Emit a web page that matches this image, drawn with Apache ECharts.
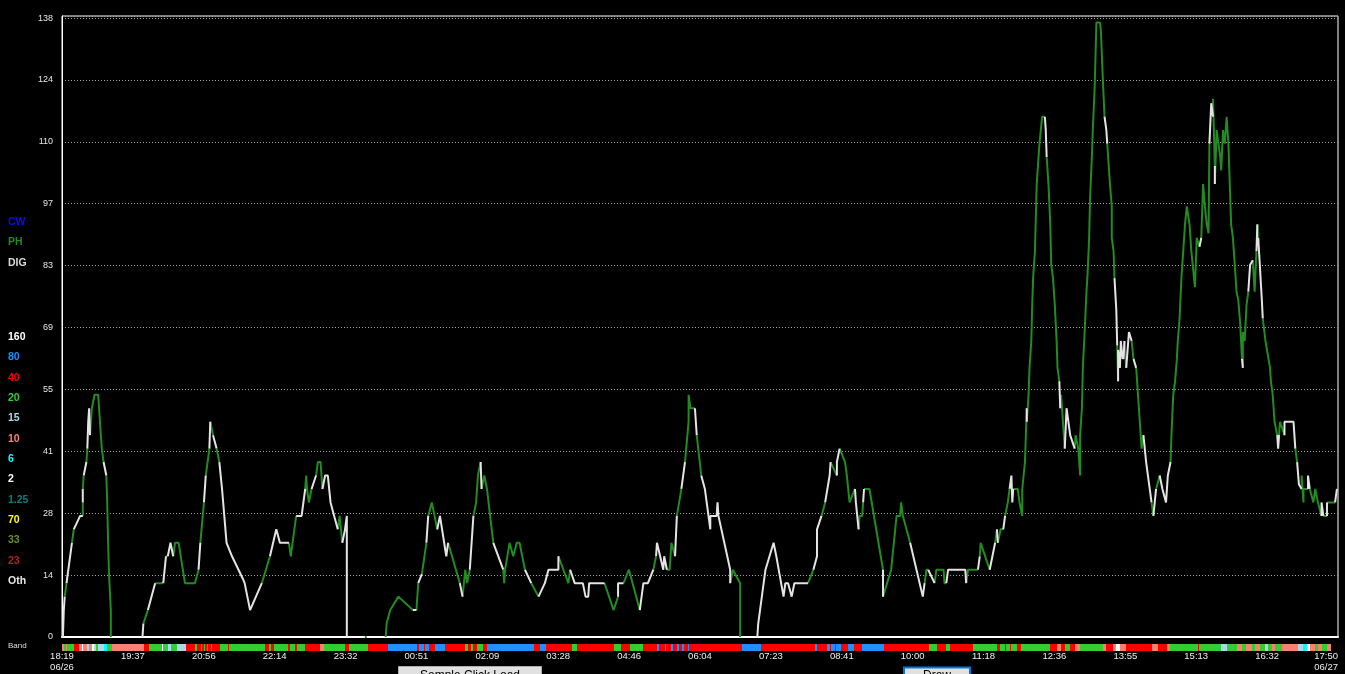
<!DOCTYPE html>
<html><head><meta charset="utf-8">
<script src="https://cdn.jsdelivr.net/npm/echarts@6/dist/echarts.min.js"></script>
<style>html,body{margin:0;padding:0;background:#000;overflow:hidden}#c{width:1345px;height:674px}</style>
</head><body><div id="c"></div>
<script>
// ---- tick labels ----
const xTickLabels = ['18:19\n06/26','19:37','20:56','22:14','23:32','00:51','02:09','03:28','04:46','06:04','07:23','08:41','10:00','11:18','12:36','13:55','15:13','16:32','17:50\n06/27'];
const yTickLabels = ['0','14','28','41','55','69','83','97','110','124','138'];

// ---- left legend ----
const modeNames = ['CW','PH','DIG'];
const modeColors = ['#0a0aff','#228b22','#dcdcdc'];
const bandNames = ['160','80','40','20','15','10','6','2','1.25','70','33','23','Oth'];
const bandColors = ['#ffffff','#1e90ff','#ff0000','#32cd32','#add8e6','#fa8072','#00ffff','#ffffff','#008080','#ffff00','#6b8e23','#b22222','#e8e8e8'];

// ---- activity line: [minutes after 18:19, value, mode of segment ending here] ----
const runA = [[1,0,'-'],[2,6,'W'],[3,9,'W'],[5,12,'G'],[11,21,'W'],[13,24,'G'],[20,27,'W'],[23,27,'W'],[23,30,'G'],[23,33,'W'],[24,36,'G'],[27,39,'W'],[28,42,'G'],[29,48,'W'],[30,51,'W'],[31,45,'W'],[33,51,'G'],[36,54,'G'],[40,54,'G'],[41,51,'G'],[43,45,'G'],[44,42,'G'],[46,39,'G'],[49,36,'W'],[50,30,'G'],[51,21,'G'],[52,14,'G'],[54,6,'G'],[54,0,'G']];
const runB = [[89,0,'-'],[90,3,'W'],[95,6,'G'],[103,12,'W'],[112,12,'G'],[115,18,'W'],[117,18,'G'],[120,21,'W'],[123,18,'W'],[125,21,'G'],[129,21,'G'],[136,12,'G'],[147,12,'G'],[151,15,'G'],[153,21,'W'],[157,30,'G'],[159,36,'W'],[163,42,'G'],[164,48,'W'],[167,45,'G'],[171,42,'W'],[174,39,'G'],[177,33,'W'],[182,21,'W'],[184,21,'W'],[188,18,'W'],[200,13,'W'],[202,12,'W'],[208,6,'W'],[209,6,'W'],[221,12,'W'],[230,18,'G'],[237,24,'W'],[241,21,'W'],[251,21,'W'],[253,18,'G'],[259,27,'G'],[265,27,'W'],[269,33,'W'],[270,36,'G'],[271,33,'G'],[273,30,'G'],[276,33,'G'],[281,36,'W'],[283,39,'G'],[286,39,'G'],[288,33,'G'],[291,36,'W'],[294,36,'W'],[297,30,'W'],[301,27,'W'],[305,24,'W'],[307,27,'G'],[310,21,'G'],[313,24,'W'],[315,27,'W'],[315,0,'W']];
const runB2 = [[335,0,'-'],[337,0,'G']];
const runC = [[358,0,'-'],[359,3,'G'],[363,6,'G'],[372,9,'G'],[388,6,'G'],[392,6,'W'],[394,12,'G'],[398,14,'W'],[403,21,'G'],[405,27,'W'],[409,30,'G'],[412,27,'G'],[415,24,'G'],[418,27,'W'],[425,18,'W'],[427,21,'W'],[440,12,'G'],[443,9,'W'],[446,15,'G'],[448,12,'G'],[451,15,'G'],[455,27,'W'],[458,30,'G'],[460,36,'G'],[463,39,'G'],[464,33,'W'],[467,36,'G'],[470,33,'G'],[477,21,'G'],[488,15,'W'],[489,12,'G'],[490,15,'G'],[495,21,'G'],[499,18,'G'],[503,21,'G'],[506,21,'G'],[512,15,'G'],[519,12,'W'],[527,9,'G'],[534,12,'W'],[538,15,'W'],[549,15,'W'],[549,18,'W'],[560,12,'G'],[562,15,'G'],[567,12,'W'],[576,12,'W'],[579,9,'W'],[582,9,'W'],[583,12,'W'],[600,12,'W'],[610,6,'G'],[615,9,'G'],[615,12,'W'],[621,12,'W'],[627,15,'G'],[639,6,'G'],[641,9,'W'],[643,12,'W'],[648,12,'W'],[654,15,'W'],[657,18,'G'],[658,21,'W'],[659,21,'W'],[665,15,'W'],[666,18,'W'],[669,15,'W'],[672,15,'G'],[674,21,'G'],[678,18,'G'],[680,27,'W'],[685,33,'G'],[689,39,'W'],[693,48,'G'],[693,54,'G'],[694,54,'G'],[695,51,'G'],[700,51,'G'],[702,45,'W'],[707,36,'G'],[711,33,'W'],[713,30,'W'],[717,24,'W'],[717,27,'W'],[724,27,'W'],[725,30,'W'],[726,27,'W'],[739,15,'W'],[739,12,'W'],[742,15,'G'],[750,12,'G'],[750,0,'G']];
const runD = [[769,0,'-'],[770,3,'W'],[774,9,'W'],[778,15,'W'],[787,21,'W'],[790,18,'W'],[798,9,'W'],[799,9,'W'],[800,12,'W'],[803,12,'W'],[807,9,'W'],[809,9,'W'],[810,12,'W'],[825,12,'W'],[831,15,'G'],[835,18,'W'],[835,24,'W'],[840,27,'W'],[844,30,'G'],[849,36,'W'],[850,39,'W'],[851,39,'G'],[857,36,'G'],[857,39,'W'],[860,42,'W'],[862,42,'G'],[866,39,'G'],[868,36,'G'],[871,30,'G'],[873,30,'G'],[877,33,'G'],[878,30,'W'],[881,24,'W'],[882,27,'G'],[885,27,'G'],[886,30,'G'],[887,33,'W'],[893,33,'G'],[908,15,'G'],[908,9,'W'],[910,9,'G'],[917,15,'G'],[923,27,'G'],[927,27,'G'],[928,30,'G'],[930,27,'G'],[938,21,'G'],[940,21,'W'],[952,9,'W'],[954,12,'W'],[956,15,'G'],[958,15,'G'],[965,12,'W'],[967,15,'G'],[975,15,'G'],[976,12,'G'],[978,12,'G'],[980,15,'W'],[999,15,'W'],[1000,12,'W'],[1002,15,'G'],[1013,15,'G'],[1015,18,'W'],[1016,21,'G'],[1026,15,'G'],[1028,15,'W'],[1032,21,'W'],[1034,24,'G'],[1035,21,'W'],[1038,24,'G'],[1041,24,'G'],[1043,27,'W'],[1046,30,'G'],[1048,33,'G'],[1050,36,'W'],[1051,30,'W'],[1052,33,'W'],[1057,33,'G'],[1059,30,'G'],[1062,27,'G'],[1062,33,'G'],[1065,39,'G'],[1067,51,'G'],[1067,48,'W'],[1069,54,'G'],[1070,60,'G'],[1072,66,'G'],[1073,74,'G'],[1074,80,'G'],[1076,86,'G'],[1078,101,'G'],[1080,107,'G'],[1081,110,'G'],[1083,110,'G'],[1084,116,'G'],[1087,116,'G'],[1088,113,'W'],[1089,107,'W'],[1091,101,'G'],[1093,92,'G'],[1094,83,'G'],[1096,80,'G'],[1098,74,'G'],[1100,66,'G'],[1101,60,'G'],[1103,57,'G'],[1104,51,'W'],[1105,54,'G'],[1107,48,'G'],[1109,42,'G'],[1111,51,'W'],[1115,45,'W'],[1117,45,'W'],[1120,42,'W'],[1121,45,'G'],[1124,42,'G'],[1126,36,'G'],[1126,45,'G'],[1128,51,'G'],[1129,60,'G'],[1131,68,'G'],[1133,77,'G'],[1134,80,'G'],[1136,89,'G'],[1137,98,'G'],[1139,107,'G'],[1140,113,'G'],[1142,122,'G'],[1144,137,'G'],[1148,137,'G'],[1149,135,'G'],[1151,125,'G'],[1153,116,'G'],[1155,113,'W'],[1156,110,'W'],[1157,107,'G'],[1159,101,'G'],[1161,96,'G'],[1161,89,'G'],[1163,86,'G'],[1164,80,'G'],[1166,73,'W'],[1167,65,'W'],[1168,57,'G'],[1168,64,'W'],[1170,60,'W'],[1171,66,'W'],[1173,62,'W'],[1174,62,'G'],[1175,66,'W'],[1177,60,'G'],[1179,60,'W'],[1180,68,'W'],[1183,66,'W'],[1184,66,'G'],[1185,62,'G'],[1188,60,'W'],[1190,54,'G'],[1192,48,'G'],[1194,42,'G'],[1196,45,'G'],[1199,39,'W'],[1201,36,'W'],[1203,33,'W'],[1205,30,'W'],[1207,27,'G'],[1210,33,'W'],[1214,36,'G'],[1217,33,'W'],[1221,30,'W'],[1222,33,'W'],[1223,36,'W'],[1224,36,'W'],[1226,39,'W'],[1227,45,'G'],[1229,54,'G'],[1231,57,'G'],[1233,62,'G'],[1234,66,'G'],[1236,71,'G'],[1238,80,'G'],[1240,86,'G'],[1242,92,'G'],[1244,96,'G'],[1247,92,'G'],[1249,86,'G'],[1251,82,'G'],[1253,78,'G'],[1255,89,'G'],[1258,87,'G'],[1260,89,'W'],[1262,101,'G'],[1264,96,'G'],[1266,92,'G'],[1268,90,'G'],[1269,110,'G'],[1271,119,'W'],[1273,116,'W'],[1273,120,'G'],[1275,105,'G'],[1275,101,'W'],[1277,113,'G'],[1281,107,'G'],[1282,104,'G'],[1284,113,'G'],[1286,110,'G'],[1288,116,'G'],[1290,110,'G'],[1292,98,'G'],[1293,92,'G'],[1295,89,'G'],[1299,77,'G'],[1301,75,'G'],[1303,70,'G'],[1305,62,'G'],[1306,60,'W'],[1306,68,'G'],[1308,66,'G'],[1310,74,'G'],[1312,77,'G'],[1314,83,'W'],[1317,84,'W'],[1319,77,'G'],[1321,86,'G'],[1322,92,'W'],[1323,89,'G'],[1325,89,'W'],[1327,75,'W'],[1328,71,'W'],[1329,71,'G'],[1331,66,'G'],[1332,66,'G'],[1336,60,'G'],[1337,57,'G'],[1339,54,'G'],[1341,48,'G'],[1344,45,'G'],[1345,42,'W'],[1346,45,'W'],[1347,48,'G'],[1352,45,'G'],[1352,48,'W'],[1362,48,'W'],[1364,42,'W'],[1366,39,'G'],[1368,34,'W'],[1371,33,'W'],[1371,36,'G'],[1373,30,'G'],[1373,33,'G'],[1378,33,'G'],[1378,36,'W'],[1380,33,'W'],[1382,33,'G'],[1384,30,'G'],[1386,33,'G'],[1389,30,'G'],[1390,30,'G'],[1393,27,'G'],[1393,30,'W'],[1395,27,'W'],[1399,27,'G'],[1399,30,'W'],[1400,30,'G'],[1408,30,'G'],[1410,33,'W']];

// ---- band strip: start minute and band of each stretch ----
const bandStart = [0,2,4,6,13,19,22,23,28,30,33,35,38,40,46,50,55,91,96,111,112,117,120,127,137,147,149,154,155,157,158,160,161,165,166,175,184,185,224,229,231,234,250,252,258,260,269,285,290,313,317,338,360,393,395,400,402,406,412,424,446,449,452,454,459,466,470,522,529,535,564,570,611,618,628,643,658,660,667,668,674,676,680,682,686,688,692,693,752,773,833,835,846,849,850,855,856,861,869,876,885,909,959,968,978,982,1008,1034,1037,1043,1044,1048,1049,1056,1061,1093,1100,1105,1109,1115,1120,1126,1151,1155,1162,1166,1170,1177,1206,1212,1222,1225,1256,1258,1282,1288,1299,1305,1310,1316,1319,1325,1330,1334,1338,1341,1349,1367,1373,1377,1380,1386,1389,1393,1399];
const bandCode = ['10','20','10','20','40','10','2','10','15','10','2','15','20','15','6','20','10','40','20','2','20','15','20','15','40','20','40','20','40','20','40','20','40','20','40','20','40','20','40','20','40','20','40','20','40','20','40','10','20','40','20','40','80','40','80','40','80','40','80','40','20','40','20','40','20','40','80','40','80','40','20','40','20','40','20','40','80','40','80','40','80','40','80','40','80','40','80','40','80','40','80','40','80','40','80','40','80','40','80','40','80','40','20','40','20','40','20','40','20','40','20','40','20','40','20','40','10','40','20','40','10','20','10','40','10','2','10','40','10','40','10','20','40','20','15','20','10','20','10','20','10','20','15','20','10','20','10','15','6','2','10','20','10','20','10'];
const bandEnd = 1403;

const X_MAX = 1411.2, X_INT = 78.4, Y_MAX = 138.45, Y_INT = 13.8;

const runs = [runA, runB, runB2, runC, runD];
function segSeries(mode){
  const out = [];
  runs.forEach(run => {
    let open = false;
    for (let i = 1; i < run.length; i++) {
      const p = run[i-1], q = run[i];
      if (q[2] === mode) {
        if (!open) { out.push([p[0], p[1]]); open = true; }
        out.push([q[0], q[1]]);
      } else if (open) { out.push([q[0], '-']); open = false; }
    }
    if (open) out.push([run[run.length-1][0], '-']);
  });
  return out;
}
const bandColorOf = {};
bandNames.forEach((n,i)=>bandColorOf[n]=bandColors[i]);
const bandData = bandStart.map((s,i)=>[s, i+1<bandStart.length ? bandStart[i+1] : bandEnd]);

const FONT = '"Liberation Sans", Arial, sans-serif';
const graphic = [];
modeNames.forEach((t,i)=>graphic.push({type:'text', x:8, y:222+i*20.5, silent:true,
  style:{text:t, fill:modeColors[i], font:'bold 10.5px '+FONT, verticalAlign:'middle'}}));
bandNames.forEach((t,i)=>graphic.push({type:'text', x:8, y:337+i*20.35, silent:true,
  style:{text:t, fill:bandColors[i], font:'bold 10.5px '+FONT, verticalAlign:'middle'}}));
graphic.push({type:'text', x:8, y:645.5, silent:true, style:{text:'Band', fill:'#dddddd', font:'8px '+FONT, verticalAlign:'middle'}});
graphic.push({type:'rect', silent:true, shape:{x:398.5, y:666.5, width:143, height:22}, style:{fill:'#e1e1e1', stroke:'#adadad', lineWidth:1}});
graphic.push({type:'text', x:470, y:669.5, silent:true, style:{text:'Sample Click Load', fill:'#000', font:'12px '+FONT, align:'center', verticalAlign:'top'}});
graphic.push({type:'rect', silent:true, shape:{x:904, y:667.5, width:66, height:22}, style:{fill:'#e1e1e1', stroke:'#0078d7', lineWidth:2}});
graphic.push({type:'text', x:937, y:670, silent:true, style:{text:'Draw', fill:'#000', font:'12px '+FONT, align:'center', verticalAlign:'top'}});

const chart = echarts.init(document.getElementById('c'), null, {renderer:'canvas'});
chart.setOption({
  backgroundColor:'#000',
  animation:false,
  grid:[
    {left:62, right:7, top:16, bottom:37, show:true, borderColor:'#ffffff', borderWidth:1},
    {left:62, right:7, top:644, height:7, show:false}
  ],
  xAxis:[
    {type:'value', gridIndex:0, min:0, max:X_MAX, interval:X_INT,
     axisLine:{show:true, lineStyle:{color:'#ffffff', width:2}},
     axisTick:{show:false}, splitLine:{show:false},
     axisLabel:{color:'#eeeeee', fontSize:9.5, fontFamily:'Liberation Sans', lineHeight:11, margin:14,
       showMinLabel:true, showMaxLabel:true, alignMaxLabel:'right', hideOverlap:false,
       formatter:v=>{const k=Math.round(v/X_INT); return xTickLabels[k] || '';}}},
    {type:'value', gridIndex:1, min:0, max:X_MAX, show:false}
  ],
  yAxis:[
    {type:'value', gridIndex:0, min:0, max:Y_MAX, interval:Y_INT,
     axisLine:{show:true, lineStyle:{color:'#ffffff', width:1}},
     axisTick:{show:false},
     axisLabel:{color:'#e6e6e6', fontSize:9, fontFamily:'Liberation Sans', margin:9, showMaxLabel:false,
       formatter:v=>{const k=Math.round(v/Y_INT); return Math.abs(v-k*Y_INT)<0.01 ? (yTickLabels[k]||'') : '';}},
     splitLine:{show:true, lineStyle:{color:'#a0a0a0', width:1, type:[1,2]}}},
    {type:'value', gridIndex:1, min:0, max:1, show:false}
  ],
  graphic: graphic,
  series:[
    {type:'custom', xAxisIndex:1, yAxisIndex:1, silent:true, data:bandData,
     renderItem:(params, api)=>{
       const a = api.coord([api.value(0), 1]);
       const b = api.coord([api.value(1), 0]);
       const x0 = Math.round(a[0]), x1 = Math.max(Math.round(b[0]), x0+1);
       return {type:'rect', shape:{x:x0, y:a[1], width:x1-x0, height:b[1]-a[1]},
               style:{fill:bandColorOf[bandCode[params.dataIndex]]}};
     }},
    {type:'line', name:'PH', data:segSeries('G'), symbol:'none', showSymbol:false, connectNulls:false,
     lineStyle:{color:'#228b22', width:2}, silent:true},
    {type:'line', name:'DIG', data:segSeries('W'), symbol:'none', showSymbol:false, connectNulls:false,
     lineStyle:{color:'#e4e4e4', width:2}, silent:true}
  ]
});
</script></body></html>
